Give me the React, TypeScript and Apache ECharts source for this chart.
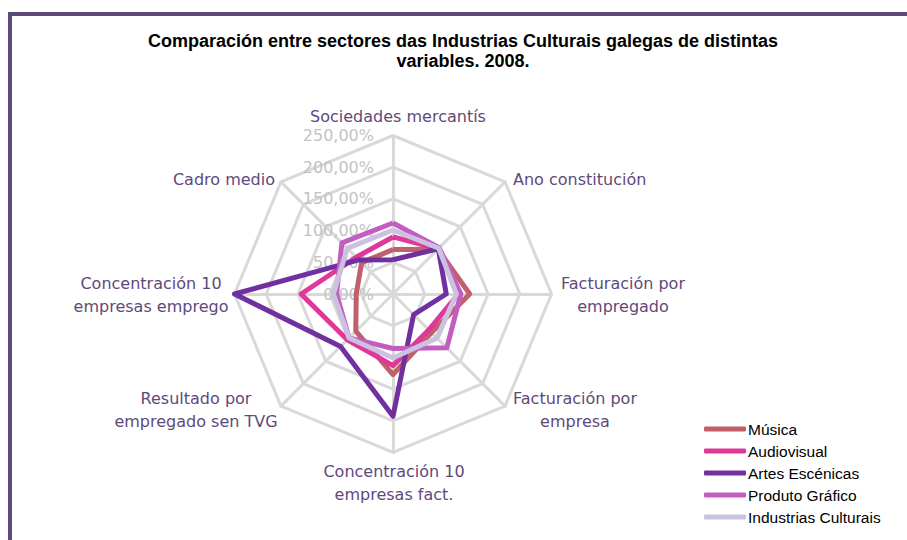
import React, { useEffect, useRef } from "react";
import * as echarts from "echarts";

// Indicators, listed clockwise from the top as they appear in the chart
const indicatorNames = [
  "Sociedades mercantís",
  "Ano constitución",
  "Facturación por\nempregado",
  "Facturación por\nempresa",
  "Concentración 10\nempresas fact.",
  "Resultado por\nempregado sen TVG",
  "Concentración 10\nempresas emprego",
  "Cadro medio",
];

const seriesNames = [
  "Música",
  "Audiovisual",
  "Artes Escénicas",
  "Produto Gráfico",
  "Industrias Culturais",
];

// values in %, clockwise order matching indicatorNames
const musica = [70, 100, 121, 86, 127, 83, 58, 70];
const audiovisual = [90, 101, 103, 80, 113, 102, 145, 82];
const artesEscenicas = [54, 101, 84, 46, 193, 117, 250, 76];
const produtoGrafico = [112, 103, 107, 120, 86, 98, 89, 114];
const industriasCulturais = [101, 102, 100, 98, 101, 98, 94, 102];

const tickMax = 250;
const tickStep = 50;

const colors = ["#c0606c", "#e0389a", "#7030a0", "#c25ec0", "#cbc1e0"];

// ECharts places radar indicators counter-clockwise; reorder to draw clockwise
const ccw = (arr: any[]) => [arr[0], ...arr.slice(1).reverse()];

// label layout (positions only)
const nameLayout = [
  { x: 398, y: 116, align: "center" },
  { x: 513, y: 179, align: "left" },
  { x: 623, y: 295, align: "center" },
  { x: 575, y: 410, align: "center" },
  { x: 394, y: 483, align: "center" },
  { x: 196, y: 410, align: "center" },
  { x: 151, y: 295, align: "center" },
  { x: 275, y: 179, align: "right" },
];

export default function App() {
  const ref = useRef<HTMLDivElement>(null);
  useEffect(() => {
    const chart = echarts.init(ref.current!, undefined, { renderer: "svg" });
    const allValues = [musica, audiovisual, artesEscenicas, produtoGrafico, industriasCulturais];
    const indicators = ccw(indicatorNames).map((n: string, i: number) => ({
      name: n,
      min: 0,
      max: tickMax,
      ...(i === 0
        ? {
            axisLabel: {
              show: true,
              color: "#c3c3c3",
              fontSize: 16,
              fontFamily: "DejaVu Sans",
              margin: 19,
              formatter: (v: number) => v.toFixed(2).replace(".", ",") + "%",
            },
          }
        : {}),
    }));
    const option: any = {
      animation: false,
      color: colors,
      legend: {
        orient: "vertical",
        left: 699,
        top: 416,
        itemWidth: 42,
        itemHeight: 5,
        itemGap: 6,
        icon: "roundRect",
        data: seriesNames,
        textStyle: {
          fontSize: 15.5,
          fontFamily: "Liberation Sans",
          color: "#000",
          lineHeight: 16,
          padding: [0, 0, 0, -3],
        },
      },
      radar: {
        center: [393, 294],
        radius: 158.5,
        startAngle: 90,
        shape: "polygon",
        splitNumber: tickMax / tickStep,
        indicator: indicators,
        axisName: { show: false },
        axisLine: { lineStyle: { color: "#d9d9d9", width: 3 } },
        splitLine: { lineStyle: { color: "#d9d9d9", width: 3 } },
        splitArea: { show: false },
        axisTick: { show: false },
        axisLabel: { show: false },
      },
      series: [
        {
          type: "radar",
          symbol: "none",
          data: seriesNames.map((n, i) => ({
            name: n,
            value: ccw(allValues[i]),
            lineStyle: { color: colors[i], width: 5 },
            itemStyle: { color: colors[i] },
          })),
        },
      ],
      graphic: [
        {
          type: "rect",
          shape: { x: 10, y: 14, width: 1000, height: 600 },
          style: { fill: "none", stroke: "#5f4b7b", lineWidth: 4 },
          silent: true,
        },
        {
          type: "text",
          x: 463,
          y: 51,
          style: {
            text: "Comparación entre sectores das Industrias Culturais galegas de distintas\nvariables. 2008.",
            align: "center",
            verticalAlign: "middle",
            font: "bold 18px 'Liberation Sans Narrow', 'Liberation Sans', sans-serif",
            lineHeight: 20,
            fill: "#000",
          },
        },
        ...indicatorNames.map((n, i) => ({
          type: "text",
          x: nameLayout[i].x,
          y: nameLayout[i].y,
          style: {
            text: n,
            align: nameLayout[i].align,
            verticalAlign: "middle",
            font: "16px 'DejaVu Sans', sans-serif",
            lineHeight: 23,
            fill: "#5f497a",
          },
        })),
      ],
    };
    chart.setOption(option);
    return () => chart.dispose();
  }, []);
  return (
    <div
      ref={ref}
      style={{ position: "fixed", left: 0, top: 0, width: 907, height: 540, background: "#fff" }}
    />
  );
}
